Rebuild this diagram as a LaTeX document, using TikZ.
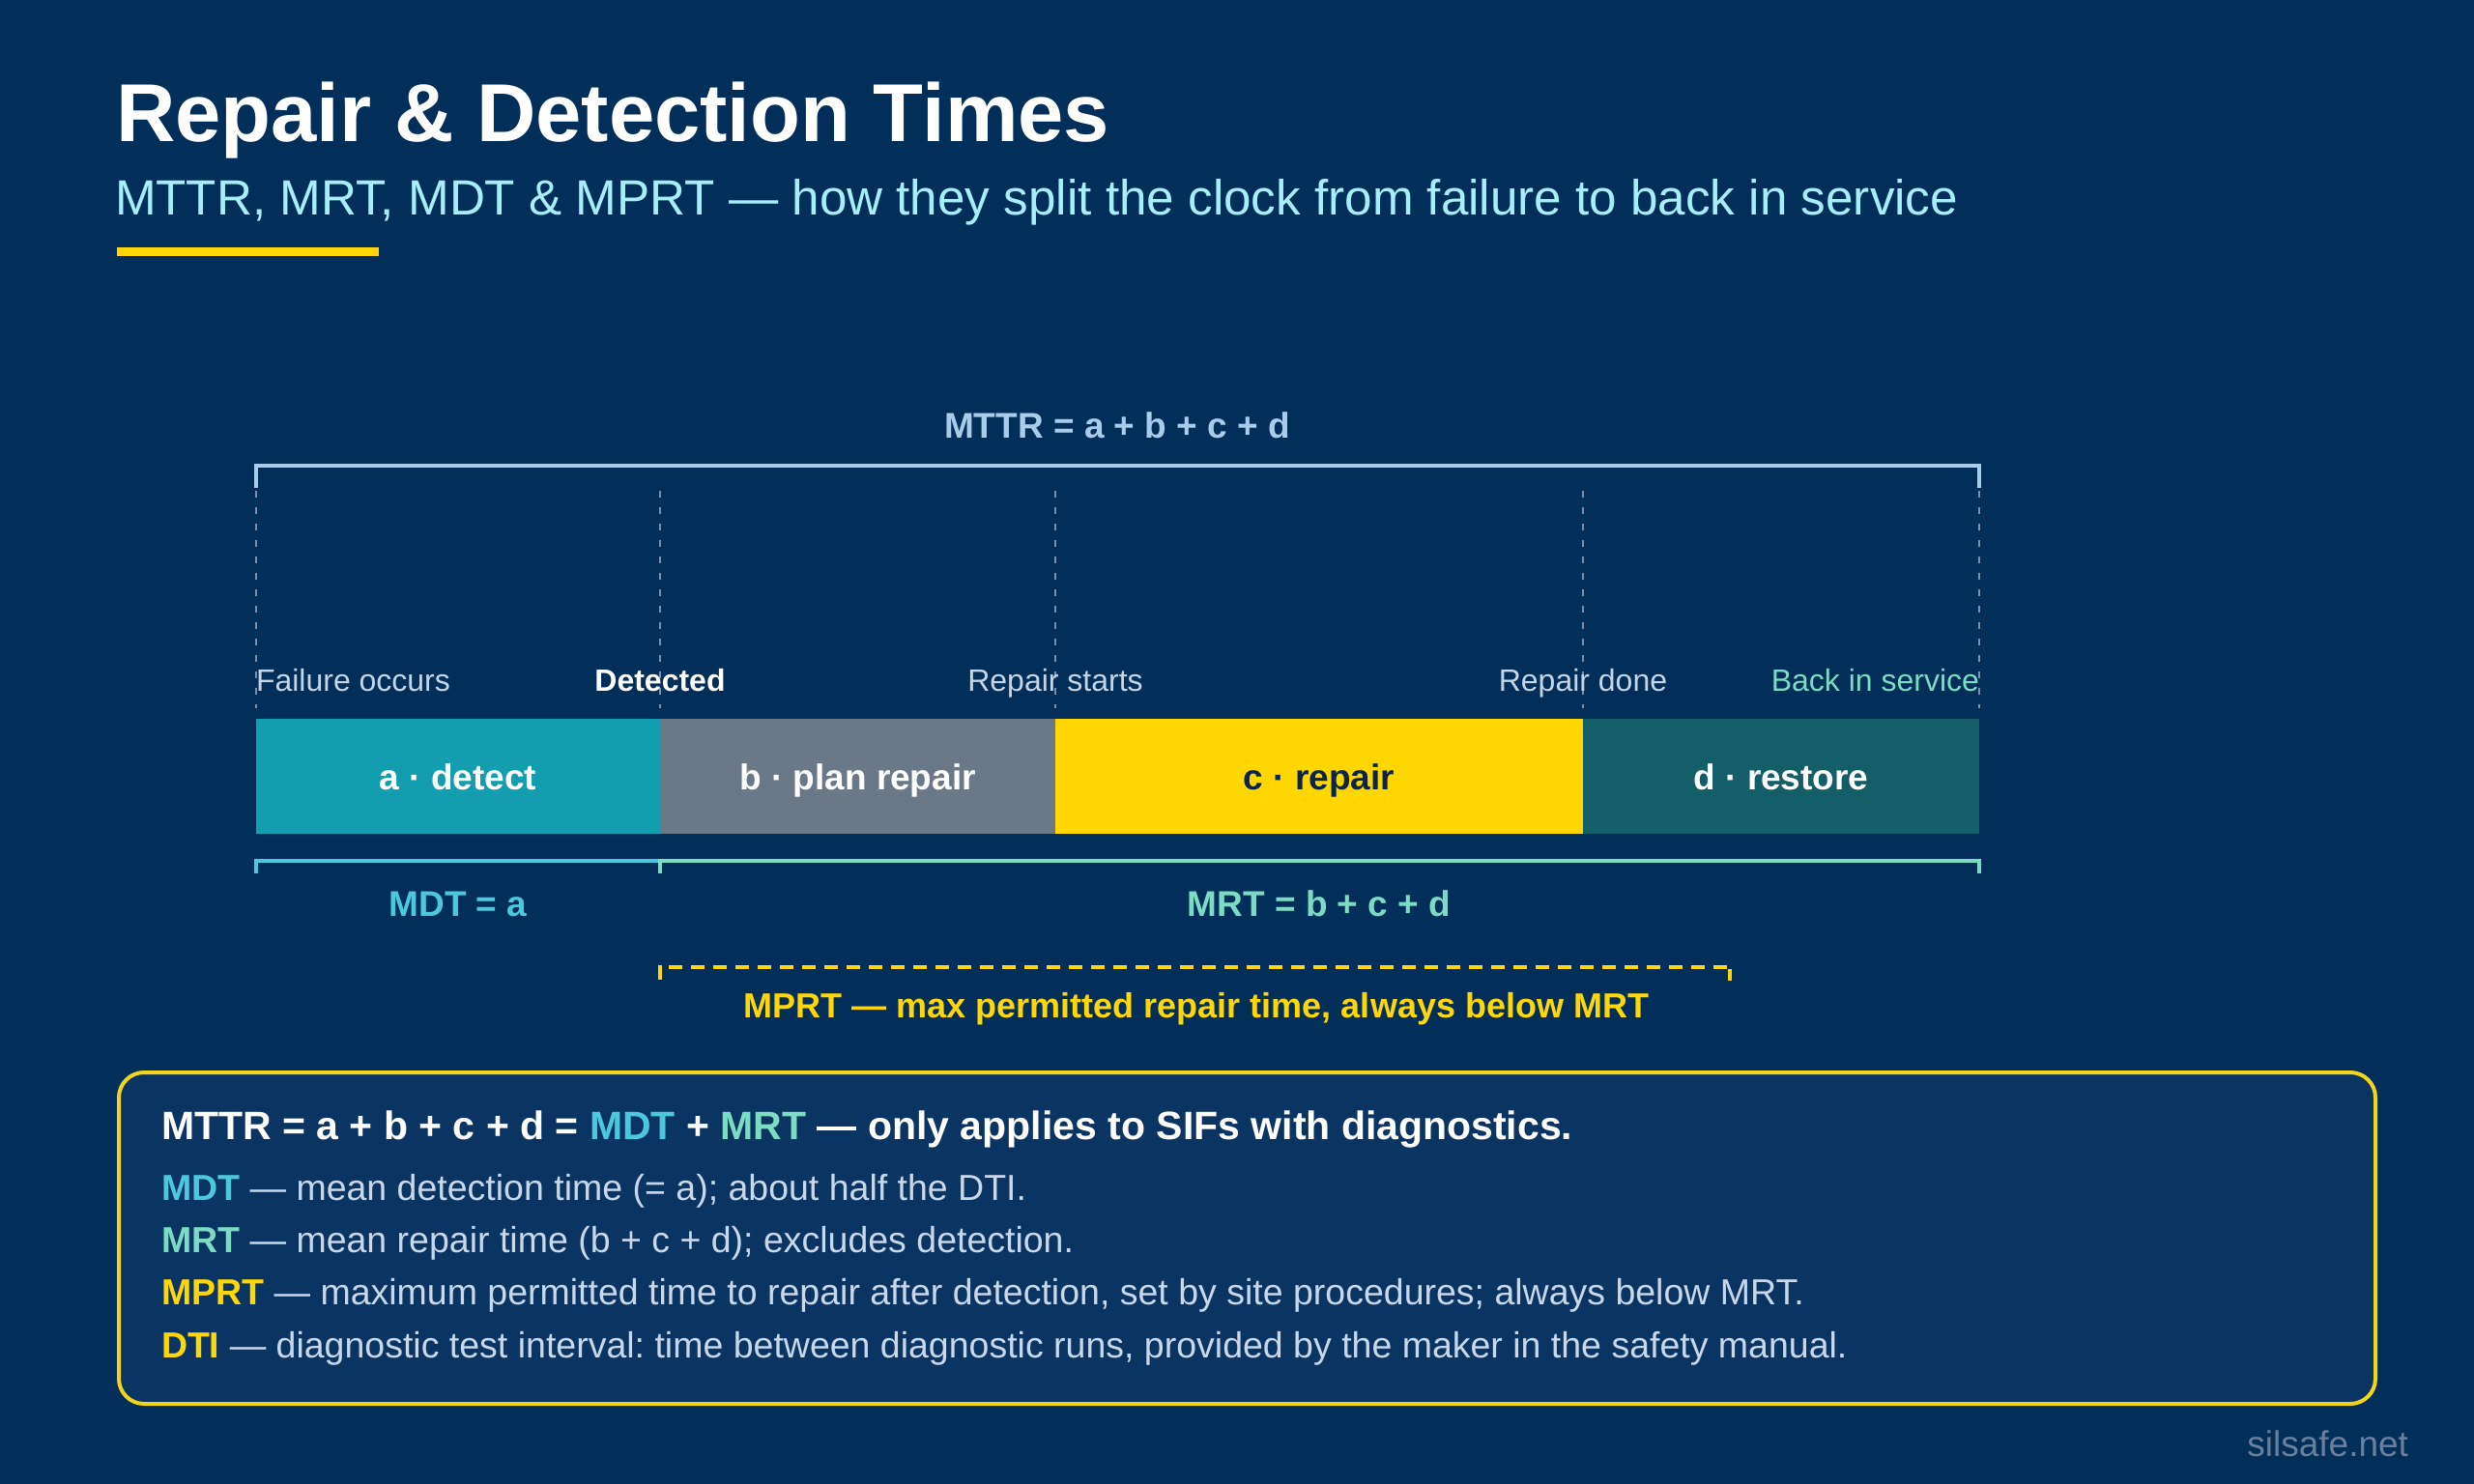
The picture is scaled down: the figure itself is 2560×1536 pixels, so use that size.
\documentclass[tikz,border=0pt]{standalone}
\usepackage{fontspec}
\setmainfont{Liberation Sans}
\frenchspacing
\definecolor{bgc}{HTML}{012F5A}
\definecolor{boxfill}{HTML}{0A3562}
\definecolor{boxline}{HTML}{F3D41C}
\definecolor{segA}{HTML}{139EAF}
\definecolor{segB}{HTML}{6B7888}
\definecolor{segC}{HTML}{FFD600}
\definecolor{segD}{HTML}{135E69}
\definecolor{darktxt}{HTML}{0B2546}
\definecolor{mttrc}{HTML}{A9CCEB}
\definecolor{vdash}{HTML}{7D8FA8}
\definecolor{evtc}{HTML}{C6D5E6}
\definecolor{mintc}{HTML}{7BDBC3}
\definecolor{cyanc}{HTML}{4CC8DD}
\definecolor{yelc}{HTML}{FFD60A}
\definecolor{subc}{HTML}{A6EEF9}
\definecolor{bodyc}{HTML}{C8D8EB}
\definecolor{markc}{HTML}{6A7F9B}
\newcommand\fsz[1]{\fontsize{#1}{#1}\selectfont}
\begin{document}
\begin{tikzpicture}[x=1pt,y=-1pt,
  lbl/.style={inner sep=0pt, outer sep=0pt, anchor=base},
  seg/.style={rectangle, inner sep=0pt, outer sep=0pt, minimum height=119pt, anchor=west,
    font=\fsz{37}\bfseries, text height=27pt, text depth=0pt},
  evt/.style={lbl, font=\fsz{32}, text=evtc},
  vline/.style={draw=vdash, line width=2pt, dash pattern=on 7pt off 10pt},
  brk/.style={line width=4pt, line join=miter},
  body/.style={lbl, anchor=base west, font=\fsz{37.5}, text=bodyc},
  hd/.style={lbl, font=\fsz{37}\bfseries}
]
\useasboundingbox (0,0) rectangle (2560,1536);
\fill[bgc] (0,0) rectangle (2560,1536);

% title block
\node[lbl, anchor=base west, font=\fsz{85}\bfseries, text=white] (title) at (120,147) {Repair \& Detection Times};
\node[lbl, anchor=base west, font=\fsz{51.2}, text=subc] (subtitle) at (119,222) {MTTR, MRT, MDT \& MPRT — how they split the clock from failure to back in service};
\fill[yelc] (121,256) rectangle (392,265);

% timeline segments
\node[seg, fill=segA, minimum width=418pt, text=white] (a) at (265,803.5) {a · detect};
\node[seg, fill=segB, minimum width=409pt, text=white] (b) at (a.east) {b · plan repair};
\node[seg, fill=segC, minimum width=546pt, text=darktxt] (c) at (b.east) {c · repair};
\node[seg, fill=segD, minimum width=410pt, text=white] (d) at (c.east) {d · restore};

% event guide lines
\coordinate (e0) at (265,508);
\coordinate (e1) at (683,508);
\coordinate (e2) at (1092,508);
\coordinate (e3) at (1638,508);
\coordinate (e4) at (2048,508);
\foreach \e in {e0,e1,e2,e3,e4}
  \draw[vline] (\e) -- ([yshift=11pt]\e |- a.north);

% MTTR bracket
\draw[brk, draw=mttrc] ([yshift=239pt]a.north west) -- ([yshift=262pt]a.north west)
  -- ([yshift=262pt]d.north east) -- ([yshift=239pt]d.north east);
\node[hd, text=mttrc] (mttr) at (1156,453) {MTTR = a + b + c + d};

% event labels
\node[evt, anchor=base west] (fail) at (265,715) {Failure occurs};
\node[lbl, font=\fsz{32}\bfseries, text=white] (det) at (683,715) {Detected};
\node[evt] (rs) at (1092,715) {Repair starts};
\node[evt] (rd) at (1638,715) {Repair done};
\node[evt, anchor=base east, text=mintc] (bis) at (2048,715) {Back in service};

% MDT / MRT brackets
\draw[brk, draw=cyanc] ([yshift=-41pt]a.south west) -- ([yshift=-28pt]a.south west)
  -- ([yshift=-28pt]a.south east) -- ([yshift=-41pt]a.south east);
\draw[brk, draw=mintc] ([yshift=-41pt]b.south west) -- ([yshift=-28pt]b.south west)
  -- ([yshift=-28pt]d.south east) -- ([yshift=-41pt]d.south east);
\node[hd, text=cyanc] (mdt) at (474,948) {MDT = a};
\node[hd, text=mintc] (mrt) at (1365,948) {MRT = b + c + d};

% MPRT bracket
\coordinate (mpStart) at (683,1001);
\coordinate (mpEnd) at (1790,1001);
\draw[yelc, line width=3.5pt] ([yshift=2pt]mpStart) -- ([yshift=-13pt]mpStart);
\draw[yelc, line width=3.5pt] ([yshift=-2pt]mpEnd) -- ([yshift=-14pt]mpEnd);
\draw[yelc, line width=3.5pt, dash pattern=on 14pt off 9pt] ([xshift=9pt]mpStart) -- (mpEnd);
\node[hd, text=yelc, font=\fsz{36}\bfseries] (mprt) at (1238,1053) {MPRT — max permitted repair time, always below MRT};

% summary box
\node[draw=boxline, fill=boxfill, line width=4pt, rounded corners=26pt, inner sep=0pt,
  minimum width=2335pt, minimum height=343pt, anchor=north west] (box) at (121,1108) {};
\node[lbl, anchor=base west, font=\fsz{41}\bfseries, text=white] (l1) at (167,1179)
  {MTTR = a + b + c + d = \textcolor{cyanc}{MDT} + \textcolor{mintc}{MRT} — only applies to SIFs with diagnostics.};
\node[body] (l2) at (167,1242) {\textcolor{cyanc}{\bfseries MDT} — mean detection time (= a); about half the DTI.};
\node[body] (l3) at (167,1296) {\textcolor{mintc}{\bfseries MRT} — mean repair time (b + c + d); excludes detection.};
\node[body] (l4) at (167,1350) {\textcolor{yelc}{\bfseries MPRT} — maximum permitted time to repair after detection, set by site procedures; always below MRT.};
\node[body] (l5) at (167,1405) {\textcolor{yelc}{\bfseries DTI} — diagnostic test interval: time between diagnostic runs, provided by the maker in the safety manual.};

% watermark
\node[lbl, anchor=base east, font=\fsz{37}, text=markc] (mark) at (2492,1507) {silsafe.net};
\end{tikzpicture}
\end{document}
